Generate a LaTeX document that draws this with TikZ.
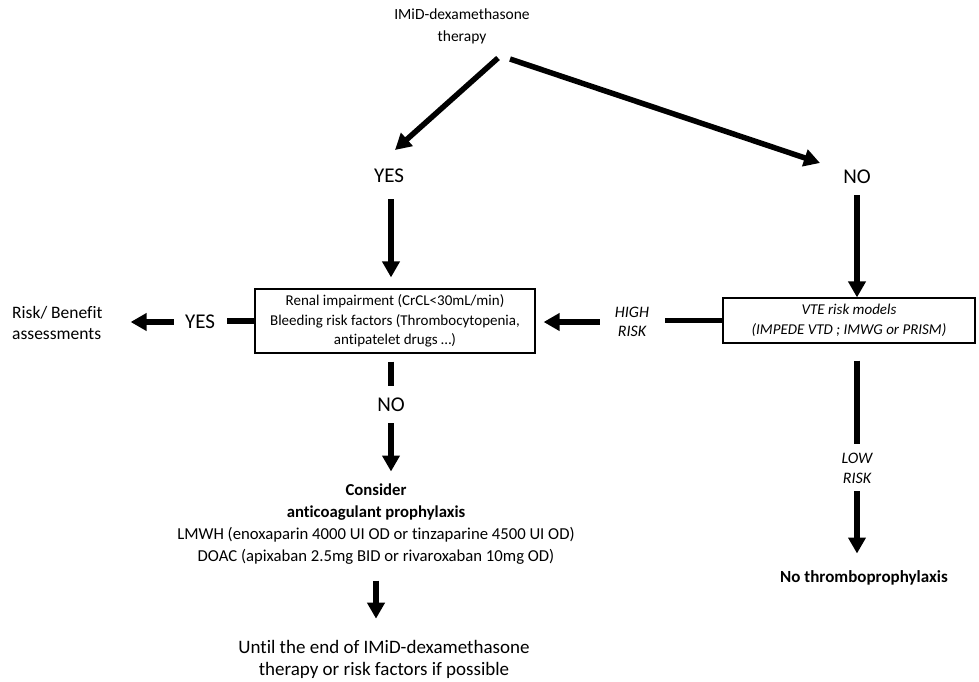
\documentclass[tikz,border=0pt]{standalone}
\usepackage{fontspec}
\setmainfont{Carlito}[Ligatures={NoCommon}]
\usetikzlibrary{arrows.meta}

\begin{document}
\begin{tikzpicture}[x=1pt,y=-1pt,
	arr/.style={line width=5.5pt,-{Triangle[width=17pt,length=16pt]}},
	bar/.style={line width=5.5pt},
	box/.style={draw,line width=1.2pt,align=center,inner sep=0pt},
	lbl/.style={inner sep=0pt,align=center}]
	
	\useasboundingbox (0,0) rectangle (979,682);
	
	% labels
	\node[lbl,font=\fontsize{15.5}{22}\selectfont] (imid) at (462,26) {IMiD-dexamethasone\\therapy};
	\node[lbl,font=\fontsize{21}{25}\selectfont] (yesA) at (389,176) {YES};
	\node[lbl,font=\fontsize{21}{25}\selectfont] (noA) at (857,177) {NO};
	\node[lbl,font=\fontsize{21}{25}\selectfont] (yesB) at (200,322) {YES};
	\node[lbl,font=\fontsize{21}{25}\selectfont] (noB) at (391,405) {NO};
	\node[lbl,font=\fontsize{16}{19.5}\selectfont\itshape] (high) at (632,322) {HIGH\\RISK};
	\node[lbl,font=\fontsize{16}{20}\selectfont\itshape] (low) at (857,468) {LOW\\RISK};
	\node[lbl,anchor=west,align=left,font=\fontsize{17.5}{20.5}\selectfont] (risk) at (12,323) {Risk/ Benefit\\assessments};
	
	% boxes
	\node[box,minimum width=280pt,minimum height=64pt,font=\fontsize{15}{19.5}\selectfont] (renal) at (395,321)
		{Renal impairment (CrCL<30mL/min)\\Bleeding risk factors (Thrombocytopenia,\\antipatelet drugs …)};
	\node[box,minimum width=252pt,minimum height=45pt,font=\fontsize{15}{19.5}\selectfont\itshape] (vte) at (849,320.5)
		{VTE risk models\\(IMPEDE VTD ; IMWG or PRISM)};
	
	% outcomes
	\node[lbl,font=\fontsize{16.7}{22}\selectfont] (consider) at (376,524)
		{\textbf{Consider}\\\textbf{anticoagulant prophylaxis}\\LMWH (enoxaparin 4000 UI OD or tinzaparine 4500 UI OD)\\DOAC (apixaban 2.5mg BID or rivaroxaban 10mg OD)};
	\node[lbl,font=\fontsize{19}{22}\selectfont] (until) at (384,659)
		{Until the end of IMiD-dexamethasone\\therapy or risk factors if possible};
	\node[lbl,font=\fontsize{17}{20}\selectfont\bfseries] (nothrombo) at (864,578) {No thromboprophylaxis};
	
	% arrows
	\draw[arr] ([shift={(36,32)}]imid.center) -- ([shift={(6,-26)}]yesA.center);
	\draw[arr] ([shift={(48,33)}]imid.center) -- ([shift={(-37,-14)}]noA.center);
	\draw[arr,shorten <=16pt,shorten >=11pt] ([xshift=2pt]yesA.south) -- ([xshift=2pt]yesA.south |- renal.north);
	\draw[arr,shorten <=11pt] (noA.south) -- (noA.south |- vte.north);
	
	\draw[bar,shorten >=16pt] (vte.west) -- (vte.west -| high.east);
	\draw[arr,shorten <=15pt,shorten >=8pt] (high.west) -- (high.west -| renal.east);
	\draw[bar,shorten >=12pt] (renal.west) -- (renal.west -| yesB.east);
	\draw[arr,shorten <=11pt,shorten >=28pt] (yesB.west) -- (yesB.west -| risk.east);
	
	\draw[bar,shorten <=8pt,shorten >=12pt] (noB.north |- renal.south) -- (noB.north);
	\draw[arr,shorten <=11pt,shorten >=12pt] (noB.south) -- (noB.south |- consider.north);
	\draw[arr,shorten <=16pt,shorten >=21pt] (consider.south) -- (consider.south |- until.north);
	
	\draw[bar,shorten <=17pt,shorten >=9pt] (low.north |- vte.south) -- (low.north);
	\draw[arr,shorten <=8pt,shorten >=17pt] (low.south) -- (low.south |- nothrombo.north);
	
\end{tikzpicture}
\end{document}
